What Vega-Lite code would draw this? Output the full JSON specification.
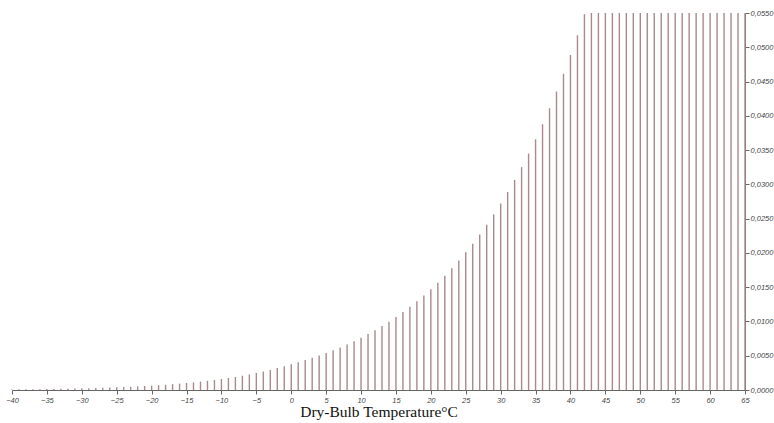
{
  "$schema": "https://vega.github.io/schema/vega-lite/v6.json",
  "width": 733,
  "height": 377,
  "autosize": {"type": "none"},
  "padding": {"left": 12, "top": 13, "right": 29, "bottom": 33},
  "background": "white",
  "config": {"view": {"stroke": null}},
  "data": {"values": [
    {"t": -40, "w": 0.000079}, {"t": -39, "w": 0.0000921}, {"t": -38, "w": 0.0001025}, {"t": -37, "w": 0.0001142},
    {"t": -36, "w": 0.0001271}, {"t": -35, "w": 0.0001412}, {"t": -34, "w": 0.0001572}, {"t": -33, "w": 0.0001744},
    {"t": -32, "w": 0.0001934}, {"t": -31, "w": 0.0002143}, {"t": -30, "w": 0.0002376}, {"t": -29, "w": 0.0002628},
    {"t": -28, "w": 0.000291}, {"t": -27, "w": 0.0003218}, {"t": -26, "w": 0.0003556}, {"t": -25, "w": 0.0003925},
    {"t": -24, "w": 0.000433}, {"t": -23, "w": 0.0004774}, {"t": -22, "w": 0.000526}, {"t": -21, "w": 0.0005795},
    {"t": -20, "w": 0.0006373}, {"t": -19, "w": 0.0007007}, {"t": -18, "w": 0.0007696}, {"t": -17, "w": 0.0008452},
    {"t": -16, "w": 0.0009277}, {"t": -15, "w": 0.0010176}, {"t": -14, "w": 0.0011155}, {"t": -13, "w": 0.0012222},
    {"t": -12, "w": 0.0013381}, {"t": -11, "w": 0.0014638}, {"t": -10, "w": 0.0015995}, {"t": -9, "w": 0.0017489},
    {"t": -8, "w": 0.0019094}, {"t": -7, "w": 0.0020837}, {"t": -6, "w": 0.0022729}, {"t": -5, "w": 0.0024763},
    {"t": -4, "w": 0.0026974}, {"t": -3, "w": 0.0029357}, {"t": -2, "w": 0.0031943}, {"t": -1, "w": 0.0034735},
    {"t": 0, "w": 0.0037748}, {"t": 1, "w": 0.0040601}, {"t": 2, "w": 0.0043643}, {"t": 3, "w": 0.0046876},
    {"t": 4, "w": 0.0050342}, {"t": 5, "w": 0.0054025}, {"t": 6, "w": 0.005795}, {"t": 7, "w": 0.0062118},
    {"t": 8, "w": 0.0066561}, {"t": 9, "w": 0.0071286}, {"t": 10, "w": 0.0076314}, {"t": 11, "w": 0.0081653},
    {"t": 12, "w": 0.0087316}, {"t": 13, "w": 0.009333}, {"t": 14, "w": 0.0099718}, {"t": 15, "w": 0.0106492},
    {"t": 16, "w": 0.0113671}, {"t": 17, "w": 0.0121288}, {"t": 18, "w": 0.0129363}, {"t": 19, "w": 0.0137907},
    {"t": 20, "w": 0.0146963}, {"t": 21, "w": 0.0156554}, {"t": 22, "w": 0.0166699}, {"t": 23, "w": 0.0177442},
    {"t": 24, "w": 0.0188801}, {"t": 25, "w": 0.0200817}, {"t": 26, "w": 0.0213527}, {"t": 27, "w": 0.0226964},
    {"t": 28, "w": 0.0241154}, {"t": 29, "w": 0.0256158}, {"t": 30, "w": 0.0272016}, {"t": 31, "w": 0.0288766},
    {"t": 32, "w": 0.0306458}, {"t": 33, "w": 0.0325143}, {"t": 34, "w": 0.0344873}, {"t": 35, "w": 0.0365717},
    {"t": 36, "w": 0.0387717}, {"t": 37, "w": 0.0410949}, {"t": 38, "w": 0.0435477}, {"t": 39, "w": 0.0461377},
    {"t": 40, "w": 0.0488725}, {"t": 41, "w": 0.0517604}, {"t": 42, "w": 0.0548093}, {"t": 43, "w": 0.055},
    {"t": 44, "w": 0.055}, {"t": 45, "w": 0.055}, {"t": 46, "w": 0.055}, {"t": 47, "w": 0.055},
    {"t": 48, "w": 0.055}, {"t": 49, "w": 0.055}, {"t": 50, "w": 0.055}, {"t": 51, "w": 0.055},
    {"t": 52, "w": 0.055}, {"t": 53, "w": 0.055}, {"t": 54, "w": 0.055}, {"t": 55, "w": 0.055},
    {"t": 56, "w": 0.055}, {"t": 57, "w": 0.055}, {"t": 58, "w": 0.055}, {"t": 59, "w": 0.055},
    {"t": 60, "w": 0.055}, {"t": 61, "w": 0.055}, {"t": 62, "w": 0.055}, {"t": 63, "w": 0.055},
    {"t": 64, "w": 0.055}, {"t": 65, "w": 0.055}
  ]},
  "mark": {"type": "rule", "color": "#a8898c", "strokeWidth": 1.4},
  "encoding": {
    "x": {
      "field": "t", "type": "quantitative",
      "scale": {"domain": [-40, 65], "nice": false, "zero": false},
      "axis": {
        "values": [-40, -35, -30, -25, -20, -15, -10, -5, 0, 5, 10, 15, 20, 25, 30, 35, 40, 45, 50, 55, 60, 65],
        "grid": false,
        "title": "Dry-Bulb Temperature°C",
        "titleFont": "Liberation Serif", "titleFontSize": 15.5, "titleFontWeight": "normal", "titleColor": "#111",
        "titlePadding": 1,
        "labelFont": "Liberation Sans", "labelFontSize": 7.5, "labelFontStyle": "italic", "labelColor": "#444",
        "labelPadding": 2, "labelFlush": false,
        "domainColor": "#666", "tickColor": "#666", "tickSize": 4, "domainWidth": 1
      }
    },
    "y": {
      "field": "w", "type": "quantitative",
      "scale": {"domain": [0, 0.055], "nice": false},
      "axis": {
        "orient": "right",
        "values": [0, 0.005, 0.01, 0.015, 0.02, 0.025, 0.03, 0.035, 0.04, 0.045, 0.05, 0.055],
        "labelExpr": "replace(format(datum.value, '.4f'), '.', ',')",
        "grid": false, "title": null,
        "labelFont": "Liberation Sans", "labelFontSize": 7.5, "labelFontStyle": "italic", "labelColor": "#444",
        "labelPadding": 1, "labelFlush": false,
        "domainColor": "#666", "tickColor": "#666", "tickSize": 4
      }
    },
    "y2": {"datum": 0}
  }
}
